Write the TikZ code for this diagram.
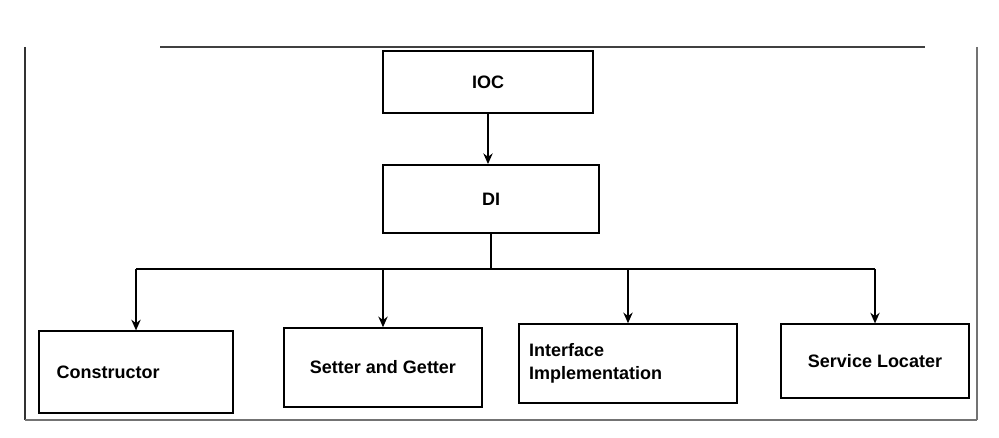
\documentclass[tikz,border=0pt]{standalone}
\usepackage{fontspec}
\setmainfont{Liberation Sans}
\usetikzlibrary{arrows.meta,positioning}

\begin{document}
\begin{tikzpicture}[x=0.75pt,y=-0.75pt,>={Stealth[length=8pt,width=7pt]}]

\tikzstyle{block}=[
  rectangle,
  draw,
  line width=1.4pt,
  inner sep=0pt,
  align=center,
  font=\fontsize{13.5}{17}\selectfont\bfseries
]
\tikzstyle{link}=[line width=1.2pt]

\useasboundingbox (0,0) rectangle (999,438);

% Frame
\draw[black!75, line width=1.1pt] (160,47) -- (925,47);
\draw[black!80, line width=0.9pt] (25,47) -- (25,420);
\draw[black!55, line width=1.5pt] (977,47) -- (977,420);
\draw[black!55, line width=1.5pt] (25,420) -- (977,420);

\node[block, minimum width=157.5pt, minimum height=46.5pt] (ioc) at (488,82) {IOC};

\node[block, minimum width=162pt, minimum height=51pt] (di) at (491,199) {DI};

\node[block, minimum width=146pt, minimum height=61pt,
  text width=119pt, inner xsep=13.5pt, align=left] (cons) at (136,372) {Constructor};

\node[block, minimum width=148pt, minimum height=59pt] (setget) at (383,367.5)
{Setter and Getter};

\node[block, minimum width=163.5pt, minimum height=59pt,
  text width=148.5pt, inner xsep=7.5pt, align=left] (intf) at (628,363.5)
{Interface\\Implementation};

\node[block, minimum width=141pt, minimum height=55pt] (serv) at (875,361)
{Service Locater};

% Arrows
\draw[->, link] (ioc.south) -- (ioc.south |- di.north);

\draw[link] (di.south) -- ++(0,35) coordinate (bus);
\draw[link] (bus -| cons.north) -- (bus -| serv.north);
\foreach \n in {cons,setget,intf,serv}
  \draw[->, link] (bus -| \n.north) -- (\n.north);

\end{tikzpicture}
\end{document}
